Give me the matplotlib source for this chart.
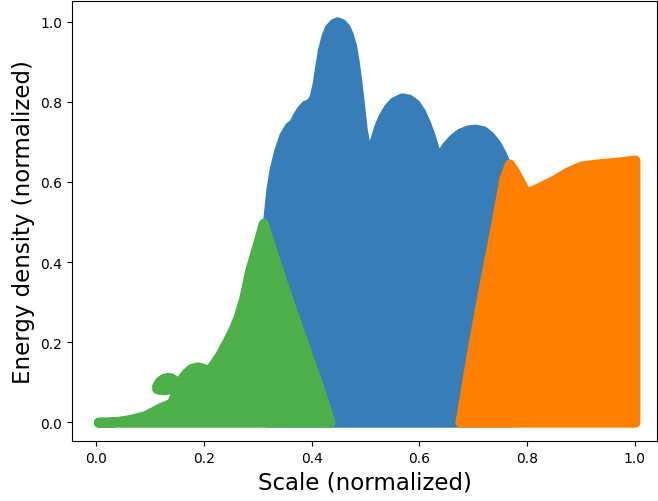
import matplotlib
matplotlib.use('Agg')
import matplotlib.pyplot as plt

# cluster colours (Set1)
c_blue = '#377eb8'
c_green = '#4daf4a'
c_orange = '#ff7f00'

# green cluster: upper outline (scale, energy)
green_x = [0.004, 0.02, 0.04, 0.06, 0.09, 0.12, 0.14, 0.150, 0.158, 0.166, 0.176,
           0.187, 0.196, 0.205, 0.212, 0.218, 0.230, 0.242, 0.254, 0.264, 0.273,
           0.285, 0.298, 0.31, 0.345, 0.38, 0.415, 0.434]
green_y = [0.0, 0.0, 0.002, 0.006, 0.016, 0.037, 0.048, 0.085, 0.108, 0.122, 0.134,
           0.138, 0.136, 0.129, 0.135, 0.146, 0.170, 0.200, 0.232, 0.265, 0.305,
           0.38, 0.44, 0.497, 0.35, 0.215, 0.08, 0.0]

# small floating bump in the green cluster
bump_x = [0.112, 0.117, 0.124, 0.131, 0.138, 0.145, 0.150]
bump_hi = [0.090, 0.102, 0.109, 0.112, 0.111, 0.105, 0.098]
bump_lo = [0.084, 0.082, 0.081, 0.082, 0.084, 0.088, 0.092]

# blue cluster
blue_x = [0.318, 0.324, 0.330, 0.338, 0.348, 0.358, 0.366, 0.372, 0.380, 0.388,
          0.397, 0.404, 0.410, 0.415, 0.420, 0.426, 0.432, 0.440, 0.447, 0.455,
          0.462, 0.468, 0.474, 0.479, 0.484, 0.489, 0.494, 0.500, 0.506, 0.512,
          0.518, 0.525, 0.533, 0.542, 0.552, 0.567, 0.580, 0.592, 0.602, 0.612,
          0.620, 0.628, 0.634, 0.640, 0.650, 0.662, 0.675, 0.690, 0.703, 0.718,
          0.730, 0.742, 0.752, 0.760, 0.768]
blue_y = [0.50, 0.58, 0.63, 0.675, 0.715, 0.738, 0.746, 0.762, 0.780, 0.792,
          0.797, 0.810, 0.845, 0.89, 0.93, 0.962, 0.983, 0.996, 1.0, 0.996,
          0.986, 0.968, 0.94, 0.90, 0.85, 0.79, 0.73, 0.685, 0.672, 0.685,
          0.71, 0.74, 0.765, 0.785, 0.80, 0.81, 0.807, 0.795, 0.775, 0.745,
          0.715, 0.68, 0.655, 0.67, 0.69, 0.708, 0.722, 0.73, 0.732, 0.728,
          0.715, 0.695, 0.67, 0.645, 0.62]

# orange cluster
orange_x = [0.675, 0.70, 0.722, 0.74, 0.757, 0.767, 0.775, 0.798, 0.82, 0.85,
            0.875, 0.90, 0.93, 0.97, 1.0]
orange_y = [0.0, 0.20, 0.36, 0.485, 0.61, 0.645, 0.63, 0.572, 0.585, 0.605,
            0.625, 0.640, 0.645, 0.650, 0.655]

xticks = [0.0, 0.2, 0.4, 0.6, 0.8, 1.0]
yticks = [0.0, 0.2, 0.4, 0.6, 0.8, 1.0]

plt.rc('xtick', labelsize=10)
plt.rc('ytick', labelsize=10)

fig = plt.figure(figsize=(6.58, 5.02), dpi=100)
ax = fig.add_axes([0.1094, 0.1195, 0.8891, 0.8765])

edge_lw = 7.2

def blob(x, y1, y2, col):
  pc = ax.fill_between(x, y1, y2, color=col, lw=edge_lw)
  pc.set_joinstyle('round')
  pc.set_capstyle('round')
  return pc

blob(blue_x, blue_y, 0, c_blue)
blob(green_x, green_y, 0, c_green)
blob(bump_x, bump_hi, bump_lo, c_green)
blob(orange_x, orange_y, 0, c_orange)

ax.set_xlim(-0.045, 1.041)
ax.set_ylim(-0.047, 1.052)
ax.set_xticks(xticks)
ax.set_yticks(yticks)
ax.set_xlabel('Scale (normalized)', fontsize=16.5)
ax.set_ylabel('Energy density (normalized)', fontsize=16.5)

fig.savefig('out.png', dpi=100)
